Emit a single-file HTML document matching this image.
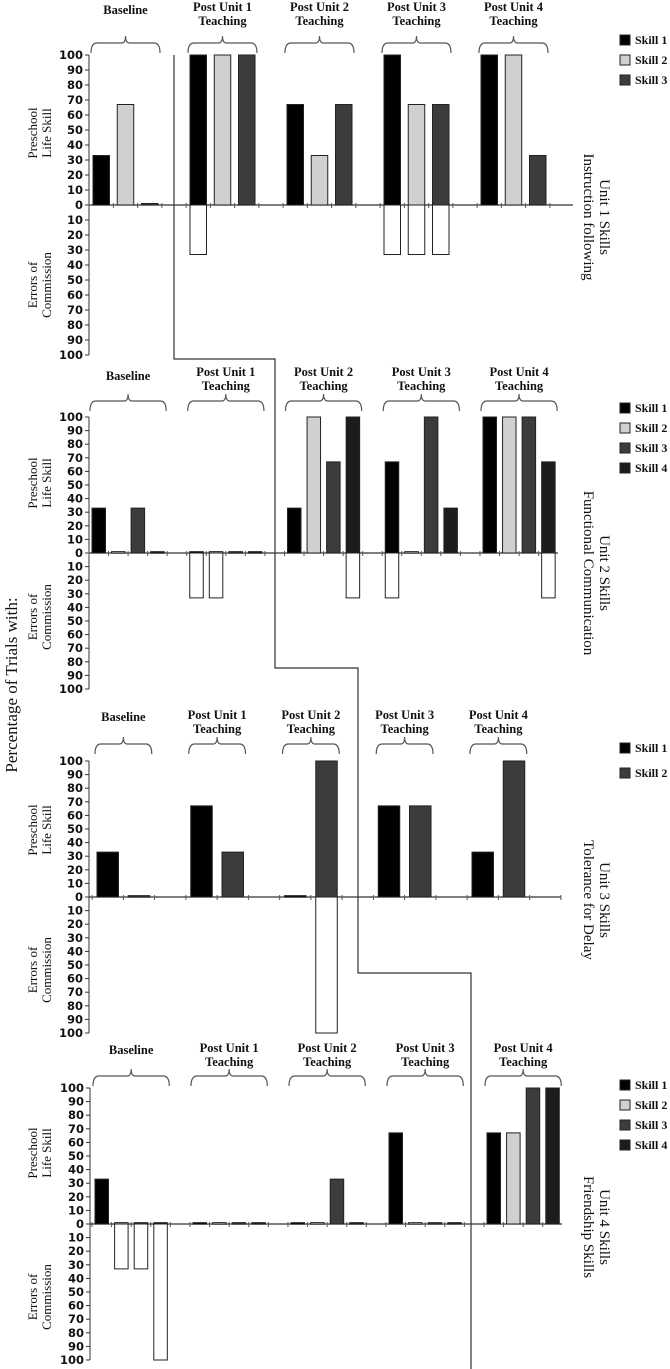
<!DOCTYPE html>
<html><head><meta charset="utf-8"><style>
html,body{margin:0;padding:0;background:#fff;}
svg{display:block;}
.tk{font-family:"DejaVu Sans","Liberation Sans",sans-serif;font-weight:bold;font-size:11.5px;fill:#111;}
.hd{font-family:"Liberation Serif",serif;font-weight:bold;font-size:12.5px;fill:#111;}
.lg{font-family:"Liberation Serif",serif;font-weight:bold;font-size:12px;fill:#111;}
.yl{font-family:"Liberation Serif",serif;font-size:13px;fill:#111;}
.tt{font-family:"Liberation Serif",serif;font-size:15px;fill:#111;}
</style></head><body>
<svg id="chart" width="670" height="1369" viewBox="0 0 670 1369" xmlns="http://www.w3.org/2000/svg">
<text class="tt" transform="translate(17,685) rotate(-90)" text-anchor="middle" style="font-size:17px">Percentage of Trials with:</text>
<path d="M174,55 V359 H275 V668 H358 V973 H471 V1369" fill="none" stroke="#333" stroke-width="1.2"/>
</svg>
<script>
const groups = ["Baseline", "Post Unit 1|Teaching", "Post Unit 2|Teaching", "Post Unit 3|Teaching", "Post Unit 4|Teaching"];
const ticks = [100,90,80,70,60,50,40,30,20,10,0,10,20,30,40,50,60,70,80,90,100];
const skillColors = ["#000000","#d0d0d0","#3c3c3c","#1c1c1c"];
// Unit 1 (3 skills): per group, per skill
const u1Skill = [[33,67,1],[100,100,100],[67,33,67],[100,67,67],[100,100,33]];
const u1Err   = [[0,0,0],[33,0,0],[0,0,0],[33,33,33],[0,0,0]];
// Unit 2 (4 skills)
const u2Skill = [[33,1,33,1],[1,1,1,1],[33,100,67,100],[67,1,100,33],[100,100,100,67]];
const u2Err   = [[0,0,0,0],[33,33,0,0],[0,0,0,33],[33,0,0,0],[0,0,0,33]];
// Unit 3 (2 skills)
const u3Skill = [[33,1],[67,33],[1,100],[67,67],[33,100]];
const u3Err   = [[0,0],[0,0],[0,100],[0,0],[0,0]];
const u3Colors = ["#000000","#3c3c3c"];
// Unit 4 (4 skills)
const u4Skill = [[33,1,1,1],[1,1,1,1],[1,1,33,1],[67,1,1,1],[67,67,100,100]];
const u4Err   = [[0,33,33,100],[0,0,0,0],[0,0,0,0],[0,0,0,0],[0,0,0,0]];
const titles = [["Unit 1 Skills","Instruction following"],["Unit 2 Skills","Functional Communication"],["Unit 3 Skills","Tolerance for Delay"],["Unit 4 Skills","Friendship Skills"]];

const NS="http://www.w3.org/2000/svg";
const svg=document.getElementById('chart');
function mk(tag,attrs,parent){const e=document.createElementNS(NS,tag);for(const k in attrs)e.setAttribute(k,attrs[k]);(parent||svg).appendChild(e);return e;}

const panels=[
 {skill:u1Skill,err:u1Err,colors:skillColors,y100:55,y0:205,axisX:89,axisEnd:573,first:93,slot:24.25,bw:16.5,braceY:37,lab1:11,lab2:25,labBase:14,legY:40,legStep:20,title:titles[0],tY:217,preY:133,errY:285},
 {skill:u2Skill,err:u2Err,colors:skillColors,y100:417,y0:553,axisX:89,axisEnd:558,first:92,slot:19.55,bw:13.5,braceY:395,lab1:376,lab2:390,labBase:380,legY:408,legStep:20,title:titles[1],tY:573,preY:483,errY:617},
 {skill:u3Skill,err:u3Err,colors:u3Colors,y100:761,y0:897,axisX:89,axisEnd:561,first:97,slot:31.25,bw:21.5,braceY:738,lab1:719,lab2:733,labBase:721,legY:748,legStep:25,title:titles[2],tY:900,preY:830,errY:970},
 {skill:u4Skill,err:u4Err,colors:skillColors,y100:1088,y0:1224,axisX:90,axisEnd:562,first:95,slot:19.6,bw:13.5,braceY:1070,lab1:1052,lab2:1066,labBase:1054,legY:1085,legStep:20,title:titles[3],tY:1227,preY:1153,errY:1297}
];

panels.forEach((p,pi)=>{
  const g=mk('g',{});
  
  
  const k=(p.y0-p.y100)/100;
  const yUp=v=>p.y0-v*k;
  const yDn=v=>p.y0+v*k;
  const n=p.skill[0].length;
  const nSlots=groups.length*(n+1);
  const ax=mk('line',{x1:p.axisX,x2:p.axisX,y1:yUp(100),y2:yDn(100),stroke:'#333','stroke-width':1},g);
  
  
  ticks.forEach((t,i)=>{
    const yy=i<=10?yUp(t):yDn(t);
    mk('line',{x1:p.axisX-4,x2:p.axisX,y1:yy,y2:yy,stroke:'#333','stroke-width':1},g);
    const tx=mk('text',{x:p.axisX-6,y:yy+4,'text-anchor':'end',class:'tk'},g);
    tx.textContent=t;
    
    
  });
  const xa=mk('line',{x1:p.axisX,x2:p.axisEnd,y1:p.y0,y2:p.y0,stroke:'#333','stroke-width':1.2},g);
  
  
  const gapOff=(p.slot-p.bw)/2;
  for(let s=0;s<=nSlots;s++){
    const xx=p.first-gapOff+s*p.slot;
    if(xx<p.axisEnd) mk('line',{x1:xx,x2:xx,y1:p.y0-2,y2:p.y0+3,stroke:'#555','stroke-width':1},g);
  }
  p.skill.forEach((grp,gi)=>{
    grp.forEach((v,si)=>{
      const x=p.first+(gi*(n+1)+si)*p.slot;
      if(v>0){
        const r=mk('rect',{x:x,y:yUp(v),width:p.bw,height:Math.max(1.5,v*k),fill:p.colors[si],stroke:'#222','stroke-width':1},g);
        
        
      }
      const e=p.err[gi][si];
      if(e>0){
        const r2=mk('rect',{x:x,y:p.y0,width:p.bw,height:e*k,fill:'#fff',stroke:'#222','stroke-width':1},g);
        
        
      }
    });
    const x1=p.first+gi*(n+1)*p.slot-2;
    const x2=x1+n*p.slot-gapOff*2+4;
    const cx=(x1+x2)/2, yb=p.braceY+6;
    const br=mk('path',{d:`M${x1},${yb+10} Q${x1},${yb} ${x1+6},${yb} H${cx-4} Q${cx},${yb} ${cx},${yb-7} Q${cx},${yb} ${cx+4},${yb} H${x2-6} Q${x2},${yb} ${x2},${yb+10}`,fill:'none',stroke:'#555','stroke-width':1.2},g);
    
    
    const parts=groups[gi].split('|');
    if(parts.length===1){
      const t=mk('text',{x:cx,y:p.labBase,'text-anchor':'middle',class:'hd'},g);
      t.textContent=parts[0];
      
      
    } else {
      const t=mk('text',{x:cx,y:p.lab1,'text-anchor':'middle',class:'hd'},g);
      t.textContent=parts[0];
      
      
      const t2=mk('text',{x:cx,y:p.lab2,'text-anchor':'middle',class:'hd'},g);
      t2.textContent=parts[1];
      
      
    }
  });
  for(let si=0;si<n;si++){
    const ly=p.legY+si*p.legStep;
    const sq=mk('rect',{x:620,y:ly-5,width:10,height:10,fill:p.colors[si],stroke:'#222','stroke-width':1},g);
    
    
    const lt=mk('text',{x:635,y:ly+4,class:'lg'},g);
    lt.textContent='Skill '+(si+1);
    
    
  }
  const tt=mk('text',{transform:`translate(592,${p.tY}) rotate(90)`,'text-anchor':'middle',class:'tt'},g);
  
  
  const s1=mk('tspan',{x:0,y:-8},tt); s1.textContent=p.title[0];
  const s2=mk('tspan',{x:0,y:8},tt); s2.textContent=p.title[1];
  [[p.preY,'Preschool','Life Skill','preschool-life-skill-label'],[p.errY,'Errors of','Commission','errors-of-commission-label']].forEach(L=>{
    const t=mk('text',{transform:`translate(40,${L[0]}) rotate(-90)`,'text-anchor':'middle',class:'yl'},g);
    
    
    const a=mk('tspan',{x:0,y:-3},t); a.textContent=L[1];
    const b=mk('tspan',{x:0,y:11},t); b.textContent=L[2];
  });
});
</script>
</body></html>
